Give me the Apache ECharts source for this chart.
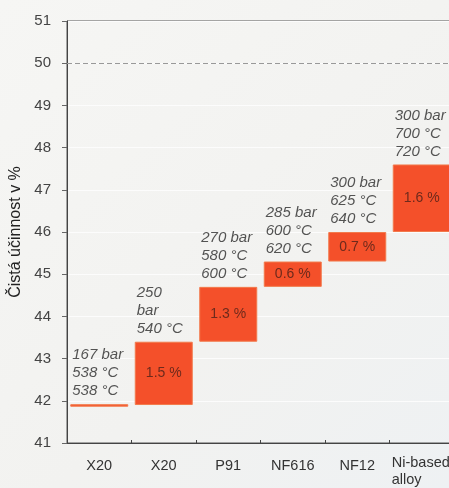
<!DOCTYPE html>
<html>
<head>
<meta charset="utf-8">
<script src="https://cdn.jsdelivr.net/npm/echarts@6/dist/echarts.min.js"></script>
<style>
html,body{margin:0;padding:0;background:#f4f4f2;}
#chart{width:449px;height:488px;}
</style>
</head>
<body>
<div id="chart"></div>
<script>
// ---- data ----
const categories = ['X20', 'X20', 'P91', 'NF616', 'NF12', 'Ni-based\nalloy'];
const baseValues = [41.86, 41.9, 43.4, 44.7, 45.3, 46.0];
const gainValues = [0.06, 1.5, 1.3, 0.6, 0.7, 1.6];
const gainLabels = ['', '1.5 %', '1.3 %', '0.6 %', '0.7 %', '1.6 %'];
const steamLabels = [
  '167 bar\n538 °C\n538 °C',
  '250\nbar\n540 °C',
  '270 bar\n580 °C\n600 °C',
  '285 bar\n600 °C\n620 °C',
  '300 bar\n625 °C\n640 °C',
  '300 bar\n700 °C\n720 °C'
];
const targetLine = 50;
const yMin = 41, yMax = 51, yStep = 1;
const yAxisTitle = 'Čistá účinnost v %';

const FONT = '"Liberation Sans", Arial, Helvetica, sans-serif';
const chart = echarts.init(document.getElementById('chart'));

const annotationData = categories.map((c, i) => ({
  value: [i, baseValues[i] + gainValues[i]],
  label: { formatter: steamLabels[i] }
}));

chart.setOption({
  backgroundColor: {
    type: 'linear', x: 0, y: 0, x2: 1, y2: 1,
    colorStops: [
      { offset: 0, color: '#f6f6f4' },
      { offset: 0.6, color: '#f2f2f0' },
      { offset: 1, color: '#eef1f3' }
    ]
  },
  animation: false,
  grid: {
    left: 67, top: 21, right: -5, bottom: 45, containLabel: false, outerBoundsMode: 'none',
    show: true, borderColor: '#555', borderWidth: 1, backgroundColor: 'transparent'
  },
  xAxis: {
    type: 'category',
    data: categories,
    axisLine: { lineStyle: { color: '#444', width: 1 } },
    axisTick: { show: true, inside: true, length: 3, lineStyle: { color: '#444' } },
    axisLabel: {
      color: '#333', fontSize: 14.5, fontFamily: FONT, margin: 11, interval: 0,
      formatter: function (v) {
        if (v.indexOf('\n') < 0) return '{a|' + v + '}';
        return v.split('\n').map(s => '{b|' + s + '}').join('\n');
      },
      rich: {
        a: { fontSize: 14.5, fontFamily: FONT, color: '#333', lineHeight: 24 },
        b: { fontSize: 14.5, fontFamily: FONT, color: '#333', lineHeight: 17, width: 60, align: 'left' }
      }
    }
  },
  yAxis: {
    type: 'value', min: yMin, max: yMax, interval: yStep,
    name: yAxisTitle, nameLocation: 'middle', nameGap: 33,
    nameTextStyle: { fontSize: 16, fontFamily: FONT, color: '#222' },
    axisLine: { show: true, lineStyle: { color: '#444', width: 1 } },
    axisTick: { show: true, length: 5, lineStyle: { color: '#666' } },
    axisLabel: { color: '#444', fontSize: 15, fontFamily: FONT, margin: 16 },
    splitLine: { show: true, lineStyle: { color: '#fcfcfc', width: 1 } }
  },
  series: [
    {
      type: 'bar', stack: 'w', data: baseValues,
      itemStyle: { color: 'transparent' }, barWidth: 58, silent: true
    },
    {
      type: 'bar', stack: 'w', data: gainValues, barWidth: 58,
      itemStyle: { color: '#f4502a', borderColor: '#f27a4c', borderWidth: 1 },
      label: {
        show: true, position: 'inside',
        formatter: p => gainLabels[p.dataIndex],
        color: '#6e2a1c', fontSize: 14, fontFamily: FONT
      },
      markLine: {
        silent: true, symbol: 'none', label: { show: false },
        lineStyle: { color: '#999', type: [5, 3], width: 1 },
        data: [{ yAxis: targetLine }]
      }
    },
    {
      type: 'scatter', data: annotationData, symbolSize: 0, silent: true,
      label: {
        show: true, position: 'inside', align: 'left', verticalAlign: 'bottom',
        offset: [-27, -4], color: '#2a2a2a', fontSize: 15, fontStyle: 'italic',
        fontFamily: FONT, lineHeight: 18
      }
    }
  ]
});
</script>
</body>
</html>
